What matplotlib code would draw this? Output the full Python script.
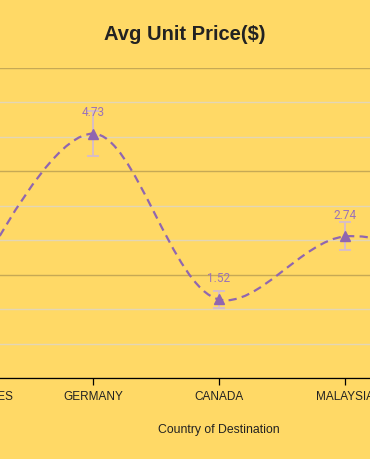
import numpy as np
import matplotlib
matplotlib.use("Agg")
import matplotlib.pyplot as plt
from matplotlib.path import Path
from matplotlib.patches import PathPatch
from matplotlib.ticker import MultipleLocator

# data (first and last categories sit mostly outside the visible crop)
countries = ["UNITED STATES", "GERMANY", "CANADA", "MALAYSIA", "OTHERS"]
avg_price = [1.60, 4.73, 1.52, 2.74, 2.05]
price_err = [0.25, 0.44, 0.16, 0.27, 0.25]

BG = "#FFD966"
LINE = "#9066b0"
LABEL = "#9b72b8"
ERR = "#d8bec6"


def smooth_path(ax, xs, ys, smoothness=1.0):
    """Centripetal catmull-rom style spline computed in display space."""
    pts = ax.transData.transform(np.column_stack([xs, ys]))
    tangents = []
    for i in range(1, len(pts) - 1):
        d1 = pts[i - 1] - pts[i]
        d2 = pts[i + 1] - pts[i]
        d1a = np.hypot(*d1) ** 0.5
        d2a = np.hypot(*d2) ** 0.5
        num = (d2a * d2a * d1 - d1a * d1a * d2) * smoothness
        den1 = 3 * d2a * (d1a + d2a)
        den2 = 3 * d1a * (d1a + d2a)
        tangents.append((pts[i] + num / den1, pts[i] - num / den2))
    verts = [pts[0], tangents[0][0], pts[1]]
    codes = [Path.MOVETO, Path.CURVE3, Path.CURVE3]
    for i in range(2, len(pts) - 1):
        verts += [tangents[i - 2][1], tangents[i - 1][0], pts[i]]
        codes += [Path.CURVE4] * 3
    verts += [tangents[-1][1], pts[-1]]
    codes += [Path.CURVE3] * 2
    verts = ax.transData.inverted().transform(np.array(verts))
    return Path(verts, codes)


W, H = 370, 460
fig = plt.figure(figsize=(W / 100, H / 100), dpi=100, facecolor=BG)
# axes wider than the canvas: the picture is a crop of a wider chart
ax = fig.add_axes([-96 / W, 81 / H, 630 / W, 310 / H])
ax.set_facecolor(BG)
x = np.arange(len(countries))
ax.set_xlim(-0.5, len(countries) - 0.5)
ax.set_ylim(0, 6)

ax.yaxis.set_major_locator(MultipleLocator(2))
ax.yaxis.set_minor_locator(MultipleLocator(2 / 3))
ax.grid(axis="y", which="minor", color="#e3d6b6", lw=1.0, zorder=0)
ax.grid(axis="y", which="major", color="#c6a955", lw=1.0, zorder=0)
ax.tick_params(axis="y", which="both", left=False, labelleft=False)
for s in ("left", "right", "top"):
    ax.spines[s].set_visible(False)
ax.spines["bottom"].set_color("black")
ax.spines["bottom"].set_linewidth(0.9)

ax.set_xticks(x)
ax.set_xticklabels(countries, fontsize=8.5, family="Liberation Sans", color="#222222")
ax.tick_params(axis="x", length=5, width=0.9, color="black", pad=3.5)
ax.set_xlabel("Country of Destination", fontsize=8.8, family="Liberation Sans",
              color="#222222", labelpad=15)

ax.errorbar(x, avg_price, yerr=price_err, fmt="none", ecolor=ERR, elinewidth=1.4,
            capsize=4.3, capthick=1.4, zorder=2)
ax.add_patch(PathPatch(smooth_path(ax, x, avg_price), fill=False, edgecolor=LINE,
                       lw=1.6, linestyle=(0, (3.7, 2.4)), zorder=3))
ax.plot(x, avg_price, ls="none", marker="^", ms=7.5, color=LINE, zorder=4)
for xi, v in zip(x, avg_price):
    ax.annotate(f"{v:.2f}", (xi, v), xytext=(0, 15.8), textcoords="offset points",
                ha="center", va="center", fontsize=8.5, family="Roboto", color=LABEL, zorder=5)

fig.text(0.5, 1 - 35 / H, "Avg Unit Price($)", ha="center", va="center", fontsize=14.5,
         fontweight="bold", family="Liberation Sans", color="#222222")

fig.savefig("out.png", dpi=100, facecolor=BG)
